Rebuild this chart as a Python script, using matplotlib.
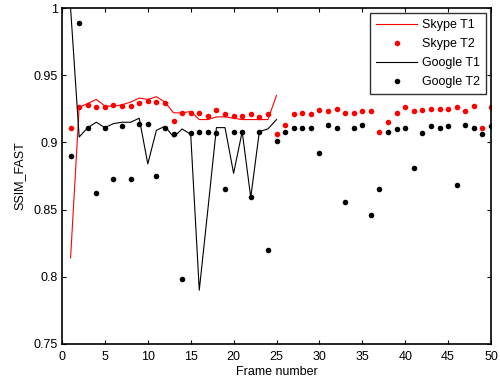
import numpy as np
import matplotlib
matplotlib.use("Agg")
import matplotlib.pyplot as plt
from matplotlib.ticker import FuncFormatter

plt.rcParams["font.family"] = ["Liberation Sans", "DejaVu Sans"]
plt.rcParams["font.size"] = 9

# ── data ──
frames_t1 = np.arange(1, 26)
frames_t2 = np.arange(1, 51)

skype_t1 = [0.814, 0.926, 0.929, 0.932, 0.927, 0.927, 0.928, 0.930, 0.933, 0.932,
            0.934, 0.930, 0.922, 0.922, 0.923, 0.917, 0.917, 0.919, 0.919, 0.918,
            0.917, 0.917, 0.917, 0.917, 0.935]

google_t1 = [1.000, 0.904, 0.911, 0.915, 0.911, 0.914, 0.915, 0.915, 0.918, 0.884,
             0.909, 0.912, 0.904, 0.910, 0.906, 0.790, 0.850, 0.911, 0.911, 0.877,
             0.908, 0.859, 0.908, 0.910, 0.917]

skype_t2 = [0.911, 0.926, 0.928, 0.926, 0.926, 0.928, 0.927, 0.927, 0.929, 0.931,
            0.930, 0.929, 0.916, 0.922, 0.922, 0.922, 0.920, 0.924, 0.921, 0.920,
            0.920, 0.921, 0.919, 0.921, 0.906, 0.913, 0.921, 0.922, 0.921, 0.924,
            0.923, 0.925, 0.922, 0.922, 0.923, 0.923, 0.908, 0.915, 0.922, 0.926,
            0.923, 0.924, 0.925, 0.925, 0.925, 0.926, 0.923, 0.927, 0.911, 0.926]

google_t2 = [0.890, 0.989, 0.911, 0.862, 0.911, 0.873, 0.912, 0.873, 0.914, 0.914,
             0.875, 0.911, 0.906, 0.798, 0.907, 0.908, 0.908, 0.907, 0.865, 0.908,
             0.908, 0.859, 0.908, 0.820, 0.901, 0.908, 0.911, 0.911, 0.911, 0.892,
             0.913, 0.911, 0.856, 0.911, 0.913, 0.846, 0.865, 0.908, 0.910, 0.911,
             0.881, 0.907, 0.912, 0.911, 0.912, 0.868, 0.913, 0.911, 0.906, 0.912]

fig = plt.figure(figsize=(5.0, 3.83), dpi=100)
ax = fig.add_axes([0.124, 0.102, 0.858, 0.877])

ax.plot(frames_t1, skype_t1, color="#FF0000", lw=0.8, label="Skype T1")
ax.plot(frames_t2, skype_t2, ls="none", marker="o", ms=4, color="#FF0000",
        mec="none", label="Skype T2")
ax.plot(frames_t1, google_t1, color="black", lw=0.8, label="Google T1")
ax.plot(frames_t2, google_t2, ls="none", marker="o", ms=4, color="black",
        mec="none", label="Google T2")

ax.set_xlim(0, 50)
ax.set_ylim(0.75, 1.0)
ax.set_xticks(np.arange(0, 51, 5))
ax.set_yticks(np.arange(0.75, 1.0001, 0.05))
ax.yaxis.set_major_formatter(FuncFormatter(lambda v, p: f"{v:g}"))
ax.tick_params(direction="in", top=True, right=True, length=3, width=0.8,
               labelsize=9)
ax.tick_params(axis="x", pad=5)
ax.tick_params(axis="y", pad=3)
for s in ax.spines.values():
    s.set_linewidth(1.2)

ax.set_xlabel("Frame number", fontsize=9, labelpad=2)
ax.set_ylabel("SSIM_FAST", fontsize=9, labelpad=6)

leg = ax.legend(loc="upper right", bbox_to_anchor=(0.988, 0.985), fontsize=9,
                frameon=True, fancybox=False, borderpad=0.5, handlelength=3.3,
                labelspacing=0.55, handletextpad=0.35, borderaxespad=0)
leg.get_frame().set_edgecolor("black")
leg.get_frame().set_linewidth(1.0)

fig.savefig("out.png", dpi=100)
